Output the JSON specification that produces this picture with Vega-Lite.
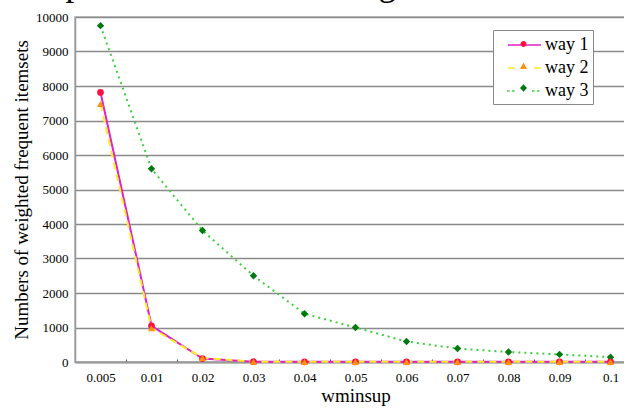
{
  "$schema": "https://vega.github.io/schema/vega-lite/v6.json",
  "width": 561,
  "height": 345,
  "autosize": {"type": "none"},
  "padding": {"left": 75, "top": 17, "right": 0, "bottom": 48},
  "background": "white",
  "title": {
    "text": "Output: A list of interesting rules.",
    "anchor": "start",
    "frame": "group",
    "font": "Liberation Serif",
    "fontSize": 35,
    "fontWeight": "normal",
    "color": "black",
    "baseline": "alphabetic",
    "offset": -19,
    "dx": -62
  },
  "config": {
    "view": {"stroke": "#c4c4c4", "strokeWidth": 2},
    "font": "Liberation Serif"
  },
  "data": {
    "values": [
      {"x": "0.005", "way": "way 1", "v": 7815},
      {"x": "0.01", "way": "way 1", "v": 1050},
      {"x": "0.02", "way": "way 1", "v": 100},
      {"x": "0.03", "way": "way 1", "v": 8},
      {"x": "0.04", "way": "way 1", "v": 5},
      {"x": "0.05", "way": "way 1", "v": 5},
      {"x": "0.06", "way": "way 1", "v": 5},
      {"x": "0.07", "way": "way 1", "v": 5},
      {"x": "0.08", "way": "way 1", "v": 5},
      {"x": "0.09", "way": "way 1", "v": 5},
      {"x": "0.1", "way": "way 1", "v": 5},
      {"x": "0.005", "way": "way 2", "v": 7480},
      {"x": "0.01", "way": "way 2", "v": 980},
      {"x": "0.02", "way": "way 2", "v": 120},
      {"x": "0.03", "way": "way 2", "v": 8},
      {"x": "0.04", "way": "way 2", "v": 5},
      {"x": "0.05", "way": "way 2", "v": 5},
      {"x": "0.06", "way": "way 2", "v": 5},
      {"x": "0.07", "way": "way 2", "v": 5},
      {"x": "0.08", "way": "way 2", "v": 5},
      {"x": "0.09", "way": "way 2", "v": 5},
      {"x": "0.1", "way": "way 2", "v": 5},
      {"x": "0.005", "way": "way 3", "v": 9750},
      {"x": "0.01", "way": "way 3", "v": 5600},
      {"x": "0.02", "way": "way 3", "v": 3810},
      {"x": "0.03", "way": "way 3", "v": 2500},
      {"x": "0.04", "way": "way 3", "v": 1400},
      {"x": "0.05", "way": "way 3", "v": 1000},
      {"x": "0.06", "way": "way 3", "v": 595},
      {"x": "0.07", "way": "way 3", "v": 390},
      {"x": "0.08", "way": "way 3", "v": 290},
      {"x": "0.09", "way": "way 3", "v": 220},
      {"x": "0.1", "way": "way 3", "v": 140}
    ]
  },
  "encoding": {
    "x": {
      "field": "x",
      "type": "ordinal",
      "sort": null,
      "scale": {"type": "band", "paddingInner": 0, "paddingOuter": 0},
      "axis": {
        "title": "wminsup",
        "titleFont": "Liberation Serif",
        "titleFontSize": 19,
        "titleFontWeight": "normal",
        "titleColor": "black",
        "titlePadding": 2,
        "labelAngle": 0,
        "labelFont": "Liberation Serif",
        "labelFontSize": 13,
        "labelColor": "black",
        "labelPadding": 12,
        "tickBand": "extent",
        "tickColor": "#555555",
        "tickSize": -3,
        "domainColor": "#999999",
        "domainWidth": 2,
        "grid": false
      }
    },
    "y": {
      "field": "v",
      "type": "quantitative",
      "scale": {"domain": [0, 10000], "nice": false},
      "axis": {
        "title": "Numbers of weighted frequent itemsets",
        "titleFont": "Liberation Serif",
        "titleFontSize": 19,
        "titleFontWeight": "normal",
        "titleColor": "black",
        "titlePadding": 4,
        "values": [0, 1000, 2000, 3000, 4000, 5000, 6000, 7000, 8000, 9000, 10000],
        "format": "d",
        "labelFont": "Liberation Serif",
        "labelFontSize": 13,
        "labelColor": "black",
        "labelPadding": 7,
        "ticks": false,
        "domainColor": "#999999",
        "domainWidth": 1.5,
        "grid": true,
        "gridColor": "#8a8a8a",
        "gridWidth": 1.5
      }
    }
  },
  "resolve": {
    "scale": {"fill": "independent", "stroke": "independent", "shape": "independent"},
    "legend": {"fill": "independent", "stroke": "independent", "shape": "independent"}
  },
  "layer": [
    {
      "transform": [{"filter": "datum.way === 'way 3'"}],
      "mark": {"type": "line", "color": "#3ccf3c", "strokeWidth": 2, "strokeDash": [2, 4]}
    },
    {
      "transform": [{"filter": "datum.way === 'way 1'"}],
      "mark": {"type": "line", "color": "#e020c8", "strokeWidth": 2}
    },
    {
      "transform": [{"filter": "datum.way === 'way 2'"}],
      "mark": {"type": "line", "color": "#ffee22", "strokeWidth": 2, "strokeDash": [7, 5]}
    },
    {
      "transform": [{"filter": "datum.way === 'way 3'"}],
      "mark": {"type": "point", "shape": "diamond", "filled": true, "color": "#007a10", "size": 55, "opacity": 1}
    },
    {
      "transform": [{"filter": "datum.way === 'way 1'"}],
      "mark": {"type": "point", "shape": "circle", "filled": true, "color": "#ff1040", "size": 45, "opacity": 1}
    },
    {
      "transform": [{"filter": "datum.way === 'way 2'"}],
      "mark": {"type": "point", "shape": "triangle-up", "filled": true, "color": "#ff9010", "size": 50, "opacity": 1}
    },
    {
      "mark": {"type": "point", "filled": false, "opacity": 0, "strokeWidth": 1.5},
      "encoding": {
        "stroke": {
          "field": "way",
          "type": "nominal",
          "scale": {"domain": ["way 1", "way 2", "way 3"], "range": ["#e020c8", "#ffee22", "#3ccf3c"]},
          "legend": {
            "title": " ",
            "titleOrient": "left",
            "titleFontSize": 12,
            "titlePadding": 23,
            "orient": "none",
            "legendX": 418,
            "legendY": 13,
            "symbolSize": 400,
            "symbolOpacity": 1,
            "symbolStrokeWidth": 1.5,
            "labelFont": "Liberation Serif",
            "labelFontSize": 18,
            "labelColor": "black",
            "labelOffset": 3,
            "rowPadding": 3,
            "padding": 4,
            "strokeColor": "#888888",
            "fillColor": "white"
          }
        },
        "shape": {
          "field": "way",
          "type": "nominal",
          "scale": {
            "domain": ["way 1", "way 2", "way 3"],
            "range": [
              "M-2.3,0H1.0",
              "M-2.3,0H-1.6M0.3,0H1.0",
              "M-2.4,0H-2.15M-1.9,0H-1.65M0.1,0H0.35M0.6,0H0.85"
            ]
          },
          "legend": {
            "title": " ",
            "titleOrient": "left",
            "titleFontSize": 12,
            "titlePadding": 23,
            "orient": "none",
            "legendX": 418,
            "legendY": 13,
            "symbolSize": 400,
            "symbolOpacity": 1,
            "symbolStrokeWidth": 1.5,
            "labelFont": "Liberation Serif",
            "labelFontSize": 18,
            "labelColor": "black",
            "labelOffset": 3,
            "rowPadding": 3,
            "padding": 4,
            "strokeColor": "#888888",
            "fillColor": "white"
          }
        }
      }
    },
    {
      "mark": {"type": "point", "filled": true, "opacity": 0},
      "encoding": {
        "fill": {
          "field": "way",
          "type": "nominal",
          "scale": {"domain": ["way 1", "way 2", "way 3"], "range": ["#ff1040", "#ff9010", "#007a10"]},
          "legend": {
            "title": " ",
            "titleOrient": "left",
            "titleFontSize": 12,
            "titlePadding": 23,
            "orient": "none",
            "legendX": 418,
            "legendY": 13,
            "symbolSize": 400,
            "symbolOpacity": 1,
            "symbolStrokeWidth": 0,
            "labelFont": "Liberation Serif",
            "labelFontSize": 18,
            "labelExpr": "''",
            "labelOffset": 3,
            "rowPadding": 3,
            "padding": 4,
            "strokeColor": "transparent",
            "fillColor": "transparent"
          }
        },
        "shape": {
          "field": "way",
          "type": "nominal",
          "scale": {
            "domain": ["way 1", "way 2", "way 3"],
            "range": [
              "M-0.95,0A0.3,0.3 0 1,0 -0.35,0A0.3,0.3 0 1,0 -0.95,0Z",
              "M-0.65,-0.35L-0.3,0.3L-1.0,0.3Z",
              "M-0.65,-0.38L-0.3,0L-0.65,0.38L-1.0,0Z"
            ]
          },
          "legend": {
            "title": " ",
            "titleOrient": "left",
            "titleFontSize": 12,
            "titlePadding": 23,
            "orient": "none",
            "legendX": 418,
            "legendY": 13,
            "symbolSize": 400,
            "symbolOpacity": 1,
            "symbolStrokeWidth": 0,
            "labelFont": "Liberation Serif",
            "labelFontSize": 18,
            "labelExpr": "''",
            "labelOffset": 3,
            "rowPadding": 3,
            "padding": 4,
            "strokeColor": "transparent",
            "fillColor": "transparent"
          }
        }
      }
    }
  ]
}
